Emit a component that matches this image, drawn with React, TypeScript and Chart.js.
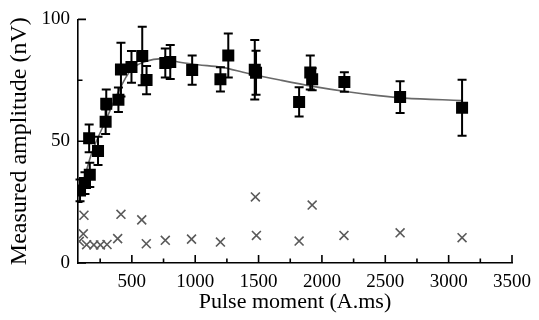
import React, { useEffect, useRef } from "react";
import { Chart, registerables } from "chart.js";

Chart.register(...registerables);

// Measured amplitude (squares with error bars)
const pulseX = [91, 130, 163, 168, 233, 293, 298, 394, 414, 497, 582, 616, 764, 803, 976, 1199, 1261, 1470, 1480, 1820, 1908, 1923, 2177, 2617, 3106];
const amplitude = [29.8, 32.8, 51.2, 36.2, 46, 58, 65.4, 67, 79.4, 80.5, 85, 75.1, 82.1, 82.5, 79.2, 75.4, 85.2, 79.3, 78.1, 66.1, 78.2, 75.4, 74.3, 68.1, 63.7];
const amplitudeErr = [4.5, 4.5, 5.7, 5, 5.8, 5, 5.8, 5, 11, 6.5, 12, 5.8, 6, 7, 6, 5, 9, 12.2, 9, 6, 7, 4.5, 4, 6.5, 11.5];

// Noise level (crosses)
const noiseX = [85, 117, 122, 143, 200, 252, 304, 388, 414, 578, 614, 764, 971, 1199, 1475, 1483, 1820, 1923, 2174, 2617, 3106];
const noise = [8.9, 12.0, 19.6, 7.5, 7.4, 7.4, 7.6, 10, 20, 17.7, 7.9, 9.3, 9.8, 8.6, 27.1, 11.3, 9.0, 23.8, 11.3, 12.4, 10.4];

// Fitted curve
const fitX = [85, 182, 298, 401, 492, 595, 764, 867, 1022, 1203, 1411, 1669, 1929, 2187, 2446, 2653, 3100];
const fitY = [27.4, 44.9, 59, 71.1, 79.2, 82.5, 83.9, 82.5, 81.4, 80.4, 77.9, 75.1, 72.5, 70.4, 68.7, 67.7, 66.7];

// Tick positions (minor + major) and labelled values
const xTickValues = [250, 500, 750, 1000, 1250, 1500, 1750, 2000, 2250, 2500, 2750, 3000, 3250, 3500];
const xLabelValues = [500, 1000, 1500, 2000, 2500, 3000, 3500];
const yTickValues = [0, 25, 50, 75, 100];
const yLabelValues = [0, 50, 100];

const FONT = "'Liberation Serif', 'Times New Roman', serif";

const errorBarPlugin = {
  id: "errorBars",
  afterDatasetsDraw(chart: any) {
    const { ctx, scales } = chart;
    const x = scales.x;
    const y = scales.y;
    ctx.save();
    ctx.strokeStyle = "#000";
    ctx.lineWidth = 2;
    pulseX.forEach((v, i) => {
      const cx = x.getPixelForValue(v);
      const top = y.getPixelForValue(amplitude[i] + amplitudeErr[i]);
      const bot = y.getPixelForValue(amplitude[i] - amplitudeErr[i]);
      ctx.beginPath();
      ctx.moveTo(cx, top);
      ctx.lineTo(cx, bot);
      ctx.moveTo(cx - 4.5, top);
      ctx.lineTo(cx + 4.5, top);
      ctx.moveTo(cx - 4.5, bot);
      ctx.lineTo(cx + 4.5, bot);
      ctx.stroke();
    });
    ctx.restore();
  },
};

const innerTickPlugin = {
  id: "innerTicks",
  afterDraw(chart: any) {
    const { ctx, scales, chartArea } = chart;
    const x = scales.x;
    const y = scales.y;
    ctx.save();
    ctx.strokeStyle = "#000";
    ctx.lineWidth = 1.6;
    ctx.beginPath();
    x.ticks.forEach((t: any) => {
      const px = x.getPixelForValue(t.value);
      const len = xLabelValues.includes(t.value) ? 8 : 4.5;
      ctx.moveTo(px, chartArea.bottom);
      ctx.lineTo(px, chartArea.bottom - len);
    });
    y.ticks.forEach((t: any) => {
      const py = y.getPixelForValue(t.value);
      const len = yLabelValues.includes(t.value) ? 8 : 4.5;
      ctx.moveTo(chartArea.left, py);
      ctx.lineTo(chartArea.left + len, py);
    });
    ctx.stroke();
    ctx.restore();
  },
};

export default function App() {
  const ref = useRef<HTMLCanvasElement | null>(null);

  useEffect(() => {
    if (!ref.current) return;
    const chart = new Chart(ref.current, {
      type: "scatter",
      data: {
        datasets: [
          {
            label: "Measured",
            data: pulseX.map((v, i) => ({ x: v, y: amplitude[i] })),
            pointStyle: "rect",
            pointRadius: 8.5,
            backgroundColor: "#000",
            borderColor: "#000",
            borderWidth: 0,
            showLine: false,
            order: 0,
          },
          {
            label: "Fit",
            data: fitX.map((v, i) => ({ x: v, y: fitY[i] })),
            showLine: true,
            pointRadius: 0,
            borderColor: "rgb(105,105,105)",
            borderWidth: 1.6,
            cubicInterpolationMode: "monotone",
            order: 2,
          },
          {
            label: "Noise",
            data: noiseX.map((v, i) => ({ x: v, y: noise[i] })),
            pointStyle: "crossRot",
            pointRadius: 6.3,
            borderColor: "rgb(90,90,90)",
            borderWidth: 1.6,
            backgroundColor: "rgb(90,90,90)",
            showLine: false,
            order: 1,
          },
        ],
      },
      options: {
        animation: false,
        responsive: false,
        events: [],
        layout: { padding: { top: 15, right: 20, left: 0, bottom: 0 } },
        plugins: {
          legend: { display: false },
          tooltip: { enabled: false },
        },
        scales: {
          x: {
            type: "linear",
            min: 75,
            max: 3500,
            bounds: "data",
            afterBuildTicks: (s: any) => {
              s.ticks = xTickValues.map((v) => ({ value: v }));
            },
            afterFit: (s: any) => {
              s.height = 57;
            },
            grid: { display: false, drawTicks: false },
            border: { display: true, color: "#000", width: 1.6 },
            ticks: {
              autoSkip: false,
              maxRotation: 0,
              padding: 8,
              color: "#000",
              font: { family: FONT, size: 19 },
              callback: (v: any) => (xLabelValues.includes(Number(v)) ? String(v) : ""),
            },
            title: {
              display: true,
              text: "Pulse moment (A.ms)",
              color: "#000",
              font: { family: FONT, size: 22 },
              padding: { top: 0, bottom: 5 },
            },
          },
          y: {
            type: "linear",
            min: 0,
            max: 100,
            afterBuildTicks: (s: any) => {
              s.ticks = yTickValues.map((v) => ({ value: v }));
            },
            afterFit: (s: any) => {
              s.width = 78;
            },
            grid: { display: false, drawTicks: false },
            border: { display: true, color: "#000", width: 1.6 },
            ticks: {
              autoSkip: false,
              padding: 8,
              color: "#000",
              font: { family: FONT, size: 19 },
              callback: (v: any) => (yLabelValues.includes(Number(v)) ? String(v) : ""),
            },
            title: {
              display: true,
              text: "Measured amplitude (nV)",
              color: "#000",
              font: { family: FONT, size: 24 },
              padding: { top: 5, bottom: 0 },
            },
          },
        },
      },
      plugins: [errorBarPlugin, innerTickPlugin],
    } as any);
    return () => chart.destroy();
  }, []);

  return (
    <div style={{ position: "fixed", left: 0, top: 0, width: 539, height: 320, background: "#fff" }}>
      <canvas ref={ref} width={539} height={320} style={{ display: "block" }} />
    </div>
  );
}
